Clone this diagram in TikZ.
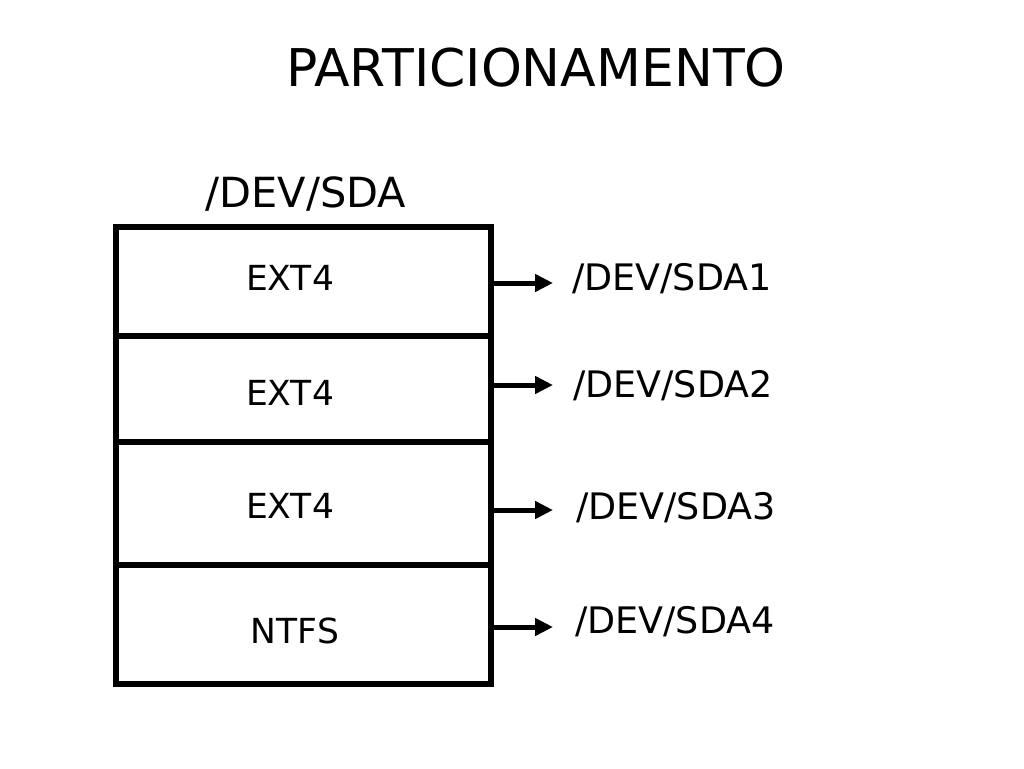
\documentclass[tikz,border=0pt]{standalone}
\usepackage{fontspec}
\setmainfont{DejaVu Sans}
\usetikzlibrary{arrows.meta}
\begin{document}
\begin{tikzpicture}[x=1pt,y=-1pt,
  part/.style={draw,line width=5.5pt,minimum width=375pt,inner sep=0pt,outer sep=0pt},
  lbl/.style={inner sep=0pt,anchor=center},
  dev/.style={inner sep=0pt,anchor=west,font=\fontsize{36.5}{40}\selectfont},
  arr/.style={line width=5pt,-{Triangle[length=18pt,width=17pt]}}]
\fill[white] (0,0) rectangle (1024,768);
\useasboundingbox (0,0) rectangle (1024,768);
\node[lbl,font=\fontsize{52}{56}\selectfont] (title) at (536,68) {PARTICIONAMENTO};
\node[lbl,font=\fontsize{41.5}{46}\selectfont] (sda) at (306,194) {/DEV/SDA};
\node[part,minimum height=109pt] (p1) at (303.5,281.5) {};
\node[part,minimum height=106pt] (p2) at (303.5,389) {};
\node[part,minimum height=123pt] (p3) at (303.5,503.5) {};
\node[part,minimum height=119pt] (p4) at (303.5,624.5) {};
\node[lbl,font=\fontsize{34.5}{40}\selectfont] (t1) at (290,278) {EXT4};
\node[lbl,font=\fontsize{34.5}{40}\selectfont] (t2) at (290,393) {EXT4};
\node[lbl,font=\fontsize{34.5}{40}\selectfont] (t3) at (290,506) {EXT4};
\node[lbl,font=\fontsize{34.5}{40}\selectfont] (t4) at (295,631) {NTFS};
\node[dev] (l1) at (572,279) {/DEV/SDA1};
\node[dev] (l2) at (573,386) {/DEV/SDA2};
\node[dev] (l3) at (576,508) {/DEV/SDA3};
\node[dev] (l4) at (575,622) {/DEV/SDA4};
\coordinate (a1) at (553,283);
\coordinate (a2) at (553,385);
\coordinate (a3) at (553,510);
\coordinate (a4) at (553,627);
\draw[arr] (p1.east |- a1) -- (a1);
\draw[arr] (p2.east |- a2) -- (a2);
\draw[arr] (p3.east |- a3) -- (a3);
\draw[arr] (p4.east |- a4) -- (a4);
\end{tikzpicture}
\end{document}
